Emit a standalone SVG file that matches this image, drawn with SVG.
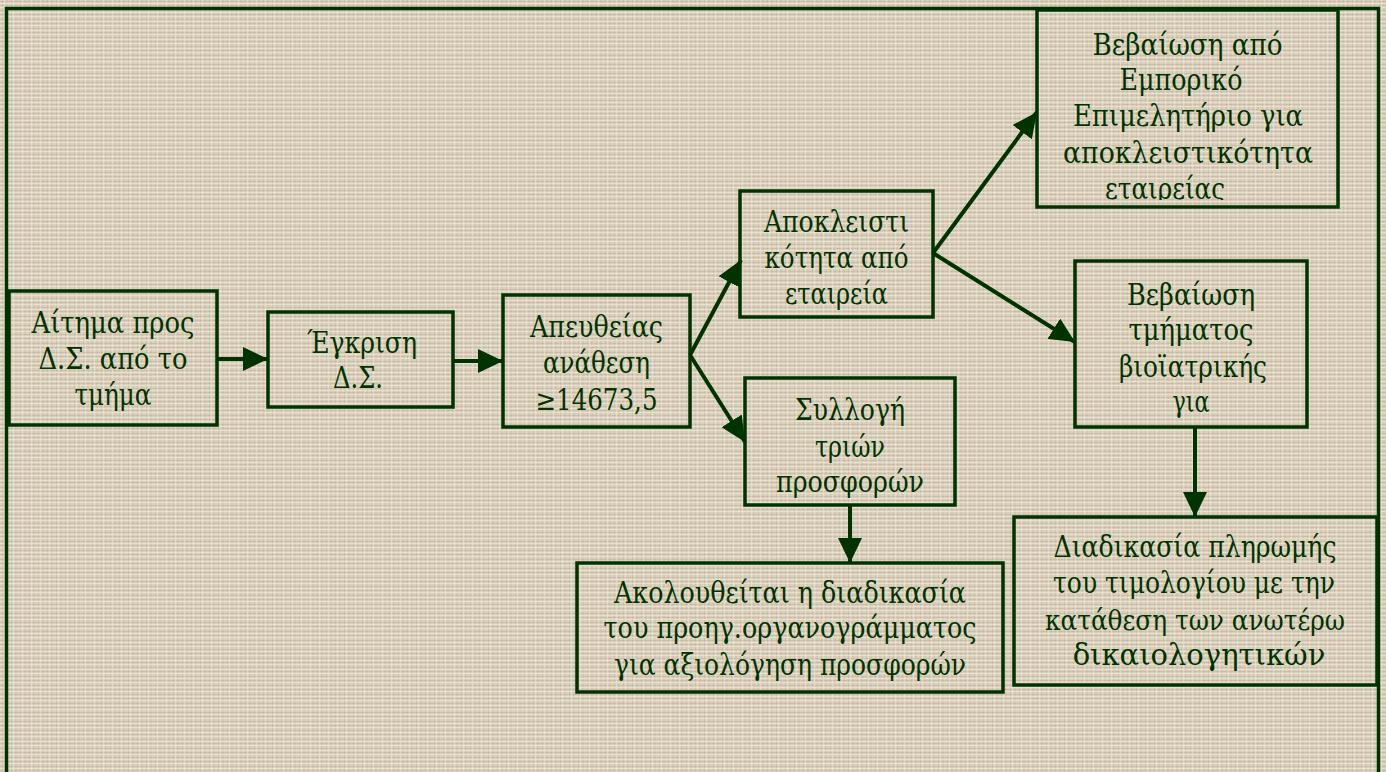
<svg xmlns="http://www.w3.org/2000/svg" width="1386" height="772" viewBox="0 0 1386 772">
  <defs>
    <!-- woven linen background -->
    <pattern id="linen" width="9" height="9" patternUnits="userSpaceOnUse">
      <rect width="9" height="9" fill="#dbd1bd"/>
      <path d="M0 1.5h9M0 5.5h9" stroke="#c2b49d" stroke-width="1" opacity="0.6"/>
      <path d="M2.5 0v9M7 0v9" stroke="#bfb29c" stroke-width="1" opacity="0.45"/>
      <path d="M0 3.5h9M0 7.5h9" stroke="#efe8d8" stroke-width="1" opacity="0.7"/>
      <path d="M4.5 0v9" stroke="#ece5d5" stroke-width="1" opacity="0.5"/>
    </pattern>
    <marker id="arrow" markerUnits="userSpaceOnUse" markerWidth="25" markerHeight="24" refX="25" refY="12" orient="auto">
      <path d="M0 0L25 12L0 24z" fill="#003300"/>
    </marker>
    <clipPath id="clip-cert-chamber">
      <rect x="1037" y="10" width="301" height="190"/>
    </clipPath>
    <style>
      .box { fill: none; stroke: #003300; stroke-width: 3.5; }
      .lbl { font-size: 29px; fill: #003300; text-anchor: middle; }
      .link { fill: none; stroke: #003300; stroke-width: 4; marker-end: url(#arrow); }
    </style>
  </defs>

  <rect width="1386" height="772" fill="url(#linen)"/>
  <rect x="6.5" y="8.5" width="1372" height="800" fill="none" stroke="#003300" stroke-width="3.5"/>

  <g id="connectors">
    <line class="link" x1="217" y1="359" x2="268" y2="359"/>
    <line class="link" x1="453" y1="361" x2="503" y2="361"/>
    <line class="link" x1="690" y1="355" x2="741" y2="260"/>
    <line class="link" x1="690" y1="355" x2="745" y2="442"/>
    <line class="link" x1="933" y1="253" x2="1037" y2="112"/>
    <line class="link" x1="933" y1="253" x2="1075" y2="342"/>
    <line class="link" x1="850" y1="505" x2="850" y2="563"/>
    <line class="link" x1="1195" y1="427" x2="1195" y2="517"/>
  </g>

  <g font-family="DejaVu Serif">
  <g id="request">
    <rect class="box" x="9" y="291" width="208" height="134"/>
    <text class="lbl" x="113" y="333" textLength="163" lengthAdjust="spacingAndGlyphs">Αίτημα προς</text>
    <text class="lbl" x="113" y="369" textLength="149" lengthAdjust="spacingAndGlyphs">Δ.Σ. από το</text>
    <text class="lbl" x="113" y="405" textLength="77" lengthAdjust="spacingAndGlyphs">τμήμα</text>
  </g>

  <g id="approval">
    <rect class="box" x="268" y="312" width="185" height="95"/>
    <text class="lbl" x="362" y="353" textLength="110" lengthAdjust="spacingAndGlyphs">Έγκριση</text>
    <text class="lbl" x="358" y="388" textLength="50" lengthAdjust="spacingAndGlyphs">Δ.Σ.</text>
  </g>

  <g id="direct-award">
    <rect class="box" x="503" y="295" width="187" height="132"/>
    <text class="lbl" x="596.5" y="337" textLength="133" lengthAdjust="spacingAndGlyphs">Απευθείας</text>
    <text class="lbl" x="596.5" y="373" textLength="107" lengthAdjust="spacingAndGlyphs">ανάθεση</text>
    <text class="lbl" x="596.5" y="410" textLength="122" lengthAdjust="spacingAndGlyphs">≥14673,5</text>
  </g>

  <g id="exclusivity">
    <rect class="box" x="740" y="191" width="193" height="126"/>
    <text class="lbl" x="836.5" y="232" textLength="145" lengthAdjust="spacingAndGlyphs">Αποκλειστι</text>
    <text class="lbl" x="836.5" y="268" textLength="144" lengthAdjust="spacingAndGlyphs">κότητα από</text>
    <text class="lbl" x="836.5" y="304" textLength="103" lengthAdjust="spacingAndGlyphs">εταιρεία</text>
  </g>

  <g id="three-offers">
    <rect class="box" x="745" y="378" width="210" height="127"/>
    <text class="lbl" x="850" y="420" textLength="110" lengthAdjust="spacingAndGlyphs">Συλλογή</text>
    <text class="lbl" x="850" y="457" textLength="70" lengthAdjust="spacingAndGlyphs">τριών</text>
    <text class="lbl" x="850" y="492" textLength="148" lengthAdjust="spacingAndGlyphs">προσφορών</text>
  </g>

  <g id="evaluation">
    <rect class="box" x="577" y="563" width="426" height="129"/>
    <text class="lbl" x="790" y="603" textLength="352" lengthAdjust="spacingAndGlyphs">Ακολουθείται η διαδικασία</text>
    <text class="lbl" x="790" y="638" textLength="373" lengthAdjust="spacingAndGlyphs">του προηγ.οργανογράμματος</text>
    <text class="lbl" x="790" y="675" textLength="352" lengthAdjust="spacingAndGlyphs">για αξιολόγηση προσφορών</text>
  </g>

  <g id="chamber-certificate">
    <rect class="box" x="1037" y="10" width="301" height="197"/>
    <g clip-path="url(#clip-cert-chamber)">
      <text class="lbl" x="1187.5" y="55" textLength="190" lengthAdjust="spacingAndGlyphs">Βεβαίωση από</text>
      <text class="lbl" x="1181" y="90" textLength="123" lengthAdjust="spacingAndGlyphs">Εμπορικό</text>
      <text class="lbl" x="1188" y="126" textLength="230" lengthAdjust="spacingAndGlyphs">Επιμελητήριο για</text>
      <text class="lbl" x="1188" y="163" textLength="250" lengthAdjust="spacingAndGlyphs">αποκλειστικότητα</text>
      <text class="lbl" x="1165" y="199" textLength="120" lengthAdjust="spacingAndGlyphs">εταιρείας</text>
    </g>
  </g>

  <g id="biomedical-certificate">
    <rect class="box" x="1075" y="261" width="232" height="166"/>
    <text class="lbl" x="1191" y="305" textLength="128" lengthAdjust="spacingAndGlyphs">Βεβαίωση</text>
    <text class="lbl" x="1191" y="340" textLength="125" lengthAdjust="spacingAndGlyphs">τμήματος</text>
    <text class="lbl" x="1193" y="377" textLength="148" lengthAdjust="spacingAndGlyphs">βιοϊατρικής</text>
    <text class="lbl" x="1191" y="412" textLength="37" lengthAdjust="spacingAndGlyphs">για</text>
  </g>

  <g id="payment">
    <rect class="box" x="1014" y="517" width="363" height="168"/>
    <text class="lbl" x="1195" y="557" textLength="283" lengthAdjust="spacingAndGlyphs">Διαδικασία πληρωμής</text>
    <text class="lbl" x="1194" y="593" textLength="282" lengthAdjust="spacingAndGlyphs">του τιμολογίου με την</text>
    <text class="lbl" x="1195" y="630" font-size="28" style="font-size:28px" textLength="300" lengthAdjust="spacingAndGlyphs">κατάθεση των ανωτέρω</text>
    <text class="lbl" x="1199" y="665">δικαιολογητικών</text>
  </g>
  </g>
</svg>
